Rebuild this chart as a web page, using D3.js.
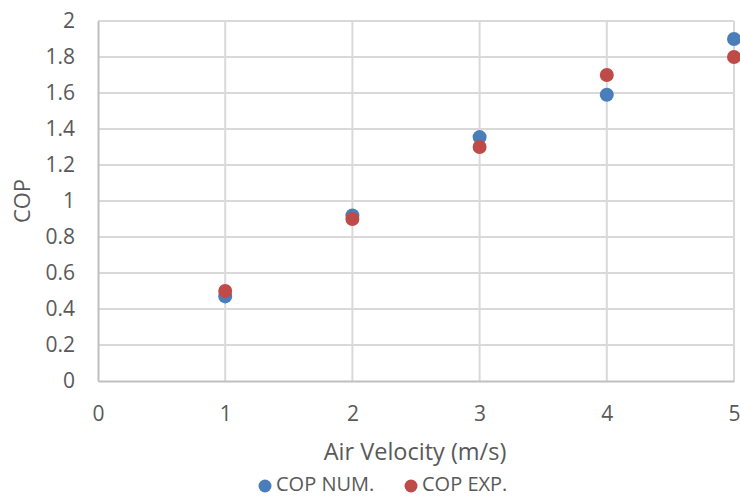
<!DOCTYPE html>
<html>
<head>
<meta charset="utf-8">
<script src="https://cdn.jsdelivr.net/npm/d3@7/dist/d3.min.js"></script>
<style>
  html, body { margin: 0; padding: 0; background: #fff; }
  svg { display: block; font-family: "Open Sans", "Liberation Sans", sans-serif; }
</style>
</head>
<body>
<svg id="chart" width="740" height="497"></svg>
<script>
// Air velocity (m/s) against coefficient of performance
const velocity = [1, 2, 3, 4, 5];
const copNum = [0.47, 0.92, 1.355, 1.59, 1.9];
const copExp = [0.5, 0.9, 1.3, 1.7, 1.8];
const xTicks = [0, 1, 2, 3, 4, 5];
const yTicks = [0, 0.2, 0.4, 0.6, 0.8, 1, 1.2, 1.4, 1.6, 1.8, 2];
const seriesNames = ["COP NUM.", "COP EXP."];
const seriesColors = ["#4a7ebb", "#be4b48"];

const svg = d3.select("#chart");
const x = d3.scaleLinear().domain([0, 5]).range([98, 734]);
const y = d3.scaleLinear().domain([0, 2]).range([381, 21]);

// grid
svg.append("g").selectAll("line").data(yTicks.filter(d => d > 0)).join("line")
  .attr("x1", x(0)).attr("x2", x(5))
  .attr("y1", d => y(d)).attr("y2", d => y(d))
  .attr("stroke", "#d9d9d9").attr("stroke-width", 2);
svg.append("g").selectAll("line").data(xTicks.filter(d => d > 0)).join("line")
  .attr("x1", d => x(d)).attr("x2", d => x(d))
  .attr("y1", y(0)).attr("y2", y(2))
  .attr("stroke", "#d9d9d9").attr("stroke-width", 2);

// axes
const xAxis = d3.axisBottom(x).tickValues(xTicks).tickSize(0).tickPadding(32).tickFormat(d3.format("d"));
const yAxis = d3.axisLeft(y).tickValues(yTicks).tickSize(0).tickPadding(23).tickFormat(d => String(d));
const gx = svg.append("g").attr("transform", `translate(0,${y(0)})`).call(xAxis);
const gy = svg.append("g").attr("transform", `translate(${x(0)},0)`).call(yAxis);
[gx, gy].forEach(g => {
  g.select(".domain").attr("stroke", "#bfbfbf").attr("stroke-width", 2);
  g.selectAll("text").attr("fill", "#595959").style("font-size", "21px")
    .style("font-family", "'Open Sans', 'Liberation Sans', sans-serif");
});
gx.selectAll("text").attr("dy", "0.36em");

// axis titles
svg.append("text").attr("x", x(2.5) - 1).attr("y", 452).attr("dy", "0.36em").attr("text-anchor", "middle")
  .attr("fill", "#595959").style("font-size", "23.5px").text("Air Velocity (m/s)");
svg.append("text").attr("transform", `translate(22,${y(1)}) rotate(-90)`).attr("dy", "0.36em")
  .attr("text-anchor", "middle").attr("fill", "#595959").style("font-size", "22px").text("COP");

// points
[copNum, copExp].forEach((vals, i) => {
  svg.append("g").selectAll("circle").data(vals).join("circle")
    .attr("cx", (d, j) => x(velocity[j])).attr("cy", d => y(d))
    .attr("r", 7).attr("fill", seriesColors[i]);
});

// legend
const legendX = [265, 411];
seriesNames.forEach((name, i) => {
  svg.append("circle").attr("cx", legendX[i]).attr("cy", 486).attr("r", 6.5).attr("fill", seriesColors[i]);
  svg.append("text").attr("x", legendX[i] + 11).attr("y", 484).attr("dy", "0.36em")
    .attr("fill", "#595959").style("font-size", "20px").text(name);
});
</script>
</body>
</html>
